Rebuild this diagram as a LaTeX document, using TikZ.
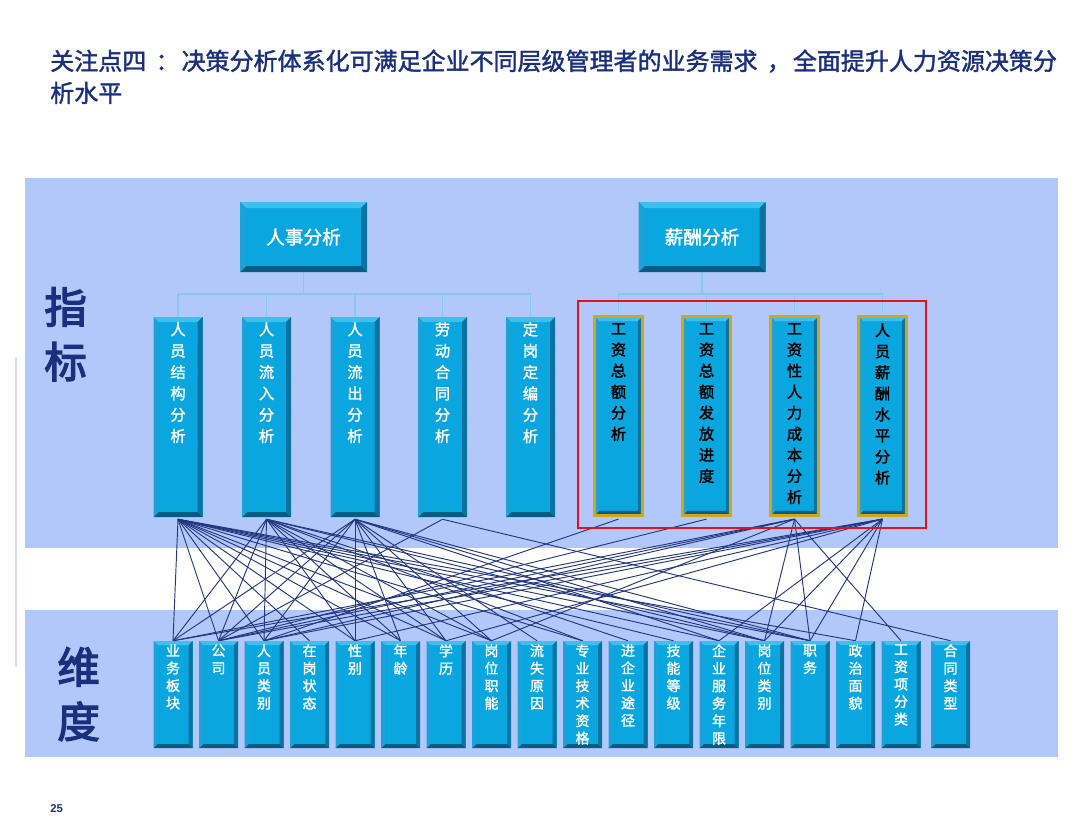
\documentclass[tikz,border=0pt]{standalone}
\usepackage{fontspec}
\usetikzlibrary{backgrounds}
\setmainfont{Liberation Sans}
\newfontfamily\cjk{Noto Sans CJK SC}[FakeBold=1.6]
\newfontfamily\cjkh{Noto Sans CJK SC}[FakeBold=3]
\definecolor{panelc}{HTML}{B3C8FA}
\definecolor{boxc}{HTML}{0AA6DF}
\definecolor{bevT}{HTML}{3CC0F0}
\definecolor{bevL}{HTML}{1BA2D8}
\definecolor{bevR}{HTML}{0A73A2}
\definecolor{bevB}{HTML}{075C84}
\definecolor{linec}{HTML}{233680}
\definecolor{treec}{HTML}{86C8EE}
\definecolor{navy}{HTML}{1A2F7D}
\definecolor{redc}{HTML}{E3131B}
\definecolor{goldc}{HTML}{D0A816}
\definecolor{sidec}{HTML}{D8DCF0}
\begin{document}
\begin{tikzpicture}[x=0.75pt,y=-0.75pt,
  bev/.style={rectangle, inner sep=0pt, fill=boxc, path picture={
    \def\bevw{#1}
    \path (path picture bounding box.north west) coordinate (bvnw)
          (path picture bounding box.north east) coordinate (bvne)
          (path picture bounding box.south west) coordinate (bvsw)
          (path picture bounding box.south east) coordinate (bvse);
    \fill[bevT] (bvnw) -- (bvne) -- ([shift={(-\bevw,-\bevw)}]bvne) -- ([shift={(\bevw,-\bevw)}]bvnw) -- cycle;
    \fill[bevR] (bvne) -- (bvse) -- ([shift={(-\bevw,\bevw)}]bvse) -- ([shift={(-\bevw,-\bevw)}]bvne) -- cycle;
    \fill[bevB] (bvse) -- (bvsw) -- ([shift={(\bevw,\bevw)}]bvsw) -- ([shift={(-\bevw,\bevw)}]bvse) -- cycle;
    \fill[bevL] (bvsw) -- (bvnw) -- ([shift={(\bevw,-\bevw)}]bvnw) -- ([shift={(\bevw,\bevw)}]bvsw) -- cycle;
  }},
  headbox/.style={bev=4.5pt, minimum width=95.25pt, minimum height=52.5pt, text=white, font=\cjk\fontsize{14}{16}\selectfont},
  abox/.style={bev=3.75pt, minimum width=36.75pt, minimum height=150pt},
  bbox/.style={bev=3.5pt, minimum width=36pt, minimum height=149.25pt, draw=goldc, line width=2.4pt},
  dbox/.style={bev=3pt, minimum width=29.25pt, minimum height=80.25pt},
  atxt/.style={inner sep=0pt, align=center, text=white, font=\cjk\fontsize{11.5}{16}\selectfont, anchor=north},
  btxt/.style={inner sep=0pt, align=center, text=black, font=\cjk\fontsize{11.5}{15.8}\selectfont, anchor=north},
  dtxt/.style={inner sep=0pt, align=center, text=white, font=\cjk\fontsize{10.5}{13.1}\selectfont, anchor=north},
  tree/.style={draw=treec, line width=0.8pt},
  conn/.style={draw=linec, line width=0.7pt},
  bigl/.style={inner sep=0pt, align=left, text=navy, font=\cjkh\fontsize{32}{41}\selectfont, anchor=north west},
  ttl/.style={inner sep=0pt, anchor=base west, text=navy, font=\cjk\fontsize{18}{24}\selectfont}
]
\useasboundingbox (0,0) rectangle (1080,835);
% title
\node[ttl] (title1) at (50,70) {关注点四\hspace{7pt}：\hspace{1.5pt}决策分析体系化可满足企业不同层级管理者的业务需求\hspace{7pt}，\hspace{1.5pt}全面提升人力资源决策分};
\node[ttl] (title2) at (50,102) {析水平};
% side labels
\node[bigl] (zb) at (44,287) {指\\标};
\node[bigl] (wd) at (57,647) {维\\度};
% head boxes
\node[headbox] (h1) at (303.5,237) {人事分析};
\node[headbox] (h2) at (702,237) {薪酬分析};
% indicator boxes
\node[abox] (a1) at (178,417) {};
\node[abox] (a2) at (266.5,417) {};
\node[abox] (a3) at (355,417) {};
\node[abox] (a4) at (442.5,417) {};
\node[abox] (a5) at (530.5,417) {};
\node[bbox] (b1) at (618.5,416) {};
\node[bbox] (b2) at (706.5,416) {};
\node[bbox] (b3) at (794.5,416) {};
\node[bbox] (b4) at (882.5,416) {};
% dimension boxes
\foreach \i/\x in {1/173,2/218.5,3/264,4/309.5,5/355,6/400.5,7/446,8/491.5,9/537,10/582.5,11/628,12/673.5,13/719,14/764.5,15/810,16/855.5,17/901,18/950.5}
  \node[dbox] (d\i) at (\x,694.5) {};
\coordinate (t1) at (303.5,294);
\coordinate (t2) at (702,294);
\begin{scope}[on background layer]
  \fill[white] (0,0) rectangle (1080,835);
  \fill[panelc] (25,178) rectangle (1058,548);
  \fill[panelc] (25,610) rectangle (1058,757);
  \draw[sidec, line width=1.5pt] (16,357) -- (16,667);
  \foreach \n in {a1,a2,a3,a4,a5}
    \draw[tree] (h1.south) -- (h1.south |- t1) -| (\n.north);
  \foreach \n in {b1,b2,b3,b4}
    \draw[tree] (h2.south) -- (h2.south |- t2) -| ([yshift=1.2pt]\n.north);
  \foreach \s/\t in {a1/d1,a1/d2,a1/d3,a1/d4,a1/d5,a1/d6,a1/d7,a1/d8,a1/d10,a1/d12,a1/d13,a1/d14,a1/d15,a1/d16,
    a2/d1,a2/d2,a2/d3,a2/d5,a2/d6,a2/d7,a2/d8,a2/d10,a2/d11,a2/d14,a2/d15,
    a3/d1,a3/d2,a3/d3,a3/d5,a3/d6,a3/d7,a3/d8,a3/d9,a3/d13,a3/d14,a3/d15,
    a4/d2,a4/d18,b1/d3,b2/d2,
    b3/d1,b3/d2,b3/d3,b3/d8,b3/d14,b3/d15,b3/d17,
    b4/d1,b4/d2,b4/d3,b4/d5,b4/d7,b4/d13,b4/d14,b4/d15,b4/d16}
    \draw[conn] ([yshift=-1.5pt]\s.south) -- (\t.north);
\end{scope}
% red frame
\draw[redc, line width=2pt] (578,301) rectangle (926,528);
% texts in indicator boxes
\node[atxt] (a1t) at ([yshift=-4pt]a1.north) {人\\员\\结\\构\\分\\析};
\node[atxt] (a2t) at ([yshift=-4pt]a2.north) {人\\员\\流\\入\\分\\析};
\node[atxt] (a3t) at ([yshift=-4pt]a3.north) {人\\员\\流\\出\\分\\析};
\node[atxt] (a4t) at ([yshift=-4pt]a4.north) {劳\\动\\合\\同\\分\\析};
\node[atxt] (a5t) at ([yshift=-4pt]a5.north) {定\\岗\\定\\编\\分\\析};
\node[btxt] (b1t) at ([yshift=-6pt]b1.north) {工\\资\\总\\额\\分\\析};
\node[btxt] (b2t) at ([yshift=-6pt]b2.north) {工\\资\\总\\额\\发\\放\\进\\度};
\node[btxt] (b3t) at ([yshift=-6pt]b3.north) {工\\资\\性\\人\\力\\成\\本\\分\\析};
\node[btxt] (b4t) at ([yshift=-6pt]b4.north) {人\\员\\薪\\酬\\水\\平\\分\\析};
% texts in dimension boxes
\foreach \i/\txt in {1/{业\\务\\板\\块},2/{公\\司},3/{人\\员\\类\\别},4/{在\\岗\\状\\态},5/{性\\别},6/{年\\龄},7/{学\\历},8/{岗\\位\\职\\能},9/{流\\失\\原\\因},10/{专\\业\\技\\术\\资\\格},11/{进\\企\\业\\途\\径},12/{技\\能\\等\\级},13/{企\\业\\服\\务\\年\\限},14/{岗\\位\\类\\别},15/{职\\务},16/{政\\治\\面\\貌},17/{工\\资\\项\\分\\类},18/{合\\同\\类\\型}}
  \node[dtxt] (dt\i) at ([yshift=-2.5pt]d\i.north) {\txt};
% page number
\node[inner sep=0pt, anchor=base west, text=navy, font=\bfseries\fontsize{8.5}{10}\selectfont] (pg) at (50,812) {25};
\end{tikzpicture}
\end{document}
